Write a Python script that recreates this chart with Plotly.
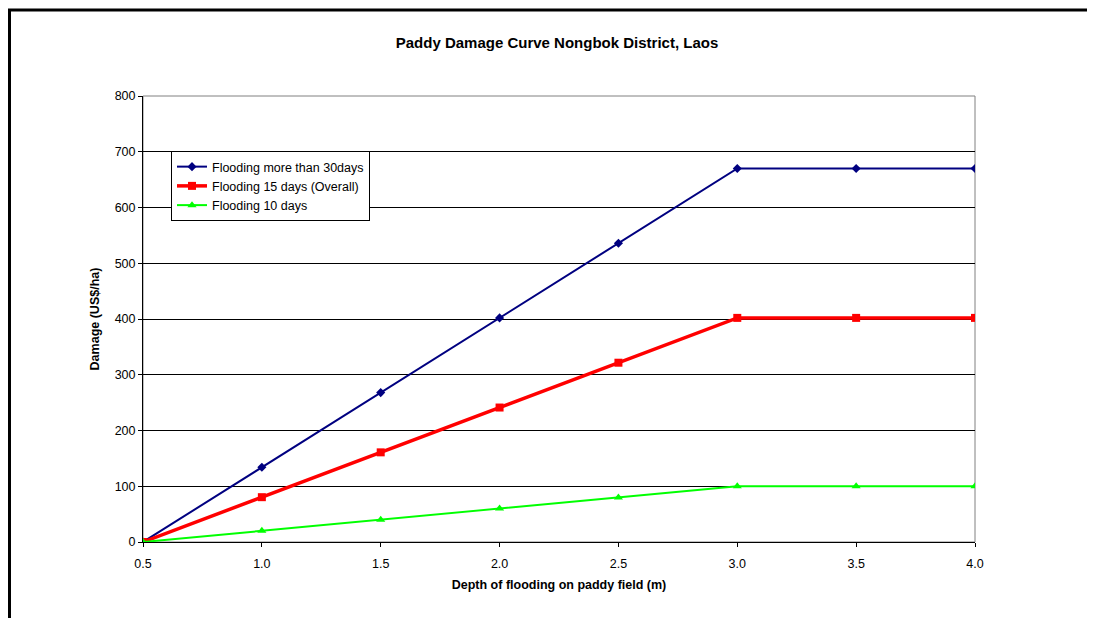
import plotly.graph_objects as go

depth = [0.5, 1.0, 1.5, 2.0, 2.5, 3.0, 3.5, 4.0]
flood_30 = [0, 134, 268, 402, 536, 670, 670, 670]
flood_15 = [0, 80.4, 160.8, 241.2, 321.6, 402, 402, 402]
flood_10 = [0, 20, 40, 60, 80, 100, 100, 100]

FONT = "Liberation Sans, Arial, sans-serif"

fig = go.Figure()
fig.add_trace(go.Scatter(x=depth, y=flood_30, name="Flooding more than 30days",
                         mode="lines+markers", line=dict(color="#000080", width=2),
                         marker=dict(symbol="diamond", size=7, color="#000080")))
fig.add_trace(go.Scatter(x=depth, y=flood_15, name="Flooding 15 days (Overall)",
                         mode="lines+markers", line=dict(color="#FF0000", width=3.5),
                         marker=dict(symbol="square", size=8, color="#FF0000")))
fig.add_trace(go.Scatter(x=depth, y=flood_10, name="Flooding 10 days",
                         mode="lines+markers", line=dict(color="#00FF00", width=2),
                         marker=dict(symbol="triangle-up", size=8, color="#00FF00")))

L, R, T, B = 143, 118, 96, 78
W, H = 1093, 620
pw, ph = W - L - R, H - T - B

def px_x(p):
    return (p - L) / pw

def px_y(p):
    return (H - B - p) / ph

fig.update_layout(
    width=W, height=H,
    margin=dict(l=L, r=R, t=T, b=B),
    paper_bgcolor="white", plot_bgcolor="white",
    font=dict(family=FONT, size=12, color="black"),
    title=dict(text="<b>Paddy Damage Curve Nongbok District, Laos</b>",
               x=557 / W, xanchor="center", y=1 - 43 / H, yanchor="middle",
               yref="container", font=dict(size=15, family=FONT)),
    showlegend=True,
    legend=dict(x=px_x(171), y=px_y(151), xanchor="left", yanchor="top",
                bgcolor="white", bordercolor="black", borderwidth=1,
                font=dict(size=12.5, family=FONT), tracegroupgap=0,
                itemwidth=30),
    xaxis=dict(range=[0.5, 4.0], dtick=0.5, tick0=0.5, tickformat=".1f",
               showgrid=False, zeroline=False, showline=True, linecolor="black",
               linewidth=1, ticks="outside", ticklen=4, tickcolor="black",
               ticklabelstandoff=6,
               tickfont=dict(size=12.5),
               title=dict(text="<b>Depth of flooding on paddy field (m)</b>",
                          font=dict(size=12.5, family=FONT), standoff=10)),
    yaxis=dict(range=[0, 800], dtick=100, showgrid=True, gridcolor="black",
               gridwidth=1, zeroline=False, showline=True, linecolor="black",
               linewidth=1, ticks="outside", ticklen=4, tickcolor="black",
               tickfont=dict(size=12.5),
               title=dict(text="<b>Damage (US$/ha)</b>",
                          font=dict(size=12.5, family=FONT), standoff=12)),
    shapes=[
        dict(type="rect", xref="x domain", yref="y domain", x0=0, x1=1, y0=0, y1=1,
             line=dict(color="#808080", width=1), layer="below"),
        dict(type="line", xref="paper", yref="paper", x0=px_x(8), x1=px_x(W - 6),
             y0=px_y(10), y1=px_y(10), line=dict(color="black", width=3)),
        dict(type="line", xref="paper", yref="paper", x0=px_x(9.5), x1=px_x(9.5),
             y0=px_y(9), y1=px_y(H - 2), line=dict(color="black", width=3)),
    ],
)

fig.write_html("out.html", config={"displayModeBar": False})
